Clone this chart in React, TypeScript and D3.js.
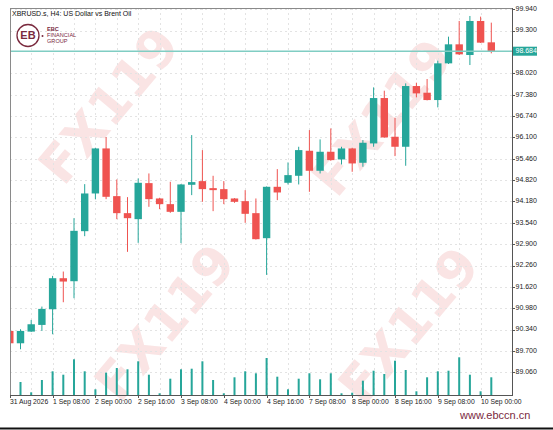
import React from "react";
import * as d3 from "d3";

const opens = [90.30, 89.93, 90.28, 90.48, 90.95, 91.88, 91.79, 93.29, 94.42, 95.77, 94.34, 93.83, 93.65, 94.73, 94.27, 94.10, 93.87, 94.68, 94.79, 94.58, 94.55, 94.27, 94.19, 93.83, 93.08, 94.62, 94.74, 94.95, 95.70, 95.10, 95.67, 95.44, 95.77, 95.34, 95.92, 97.28, 96.12, 95.82, 97.64, 97.44, 97.22, 98.32, 98.89, 98.57, 99.59, 98.95];
const highs = [90.33, 90.35, 90.63, 91.03, 91.95, 92.08, 93.68, 94.70, 95.79, 96.11, 94.84, 94.31, 94.87, 95.02, 94.29, 94.77, 94.70, 96.17, 95.72, 94.95, 94.79, 94.28, 94.52, 94.27, 94.63, 95.15, 95.35, 95.82, 96.32, 96.04, 96.37, 95.82, 95.79, 96.02, 97.60, 97.50, 96.69, 97.72, 97.74, 97.85, 98.40, 99.12, 99.59, 99.74, 99.72, 99.54];
const lows = [89.90, 89.75, 90.27, 90.30, 90.20, 91.16, 91.28, 93.14, 94.25, 94.25, 93.65, 92.67, 92.94, 94.02, 93.95, 93.84, 92.93, 94.37, 94.17, 93.89, 94.10, 94.14, 93.54, 93.04, 91.98, 94.22, 94.69, 94.69, 94.47, 95.02, 95.40, 95.29, 95.07, 95.22, 95.82, 96.09, 95.54, 95.25, 97.30, 97.21, 97.00, 98.30, 98.57, 98.27, 98.93, 98.62];
const closes = [89.93, 90.30, 90.50, 90.96, 91.88, 91.78, 93.30, 94.42, 95.77, 94.32, 93.83, 93.68, 94.74, 94.25, 94.10, 93.87, 94.69, 94.76, 94.55, 94.52, 94.25, 94.17, 93.81, 93.05, 94.62, 94.45, 94.97, 95.72, 95.10, 95.67, 95.42, 95.77, 95.32, 95.94, 97.28, 96.10, 95.82, 97.64, 97.42, 97.22, 98.32, 98.89, 98.59, 99.59, 98.94, 98.684];
const volumes = [1000, 1300, 270, 1500, 2370, 2030, 3570, 2370, 570, 2230, 2700, 2570, 3370, 2030, 170, 1630, 2570, 2630, 3370, 1500, 170, 1770, 2370, 2170, 3700, 1830, 570, 1630, 2170, 1570, 2170, 170, 230, 1430, 2430, 2100, 3430, 2500, 370, 1770, 2370, 2430, 3770, 2030, 370, 1770];

const priceTicks = [99.94, 99.3, 98.02, 97.38, 96.74, 96.1, 95.46, 94.82, 94.18, 93.54, 92.9, 92.26, 91.62, 90.98, 90.34, 89.7, 89.06];
const timeLabels = ["31 Aug 2026", "1 Sep 08:00", "2 Sep 00:00", "2 Sep 16:00", "3 Sep 08:00", "4 Sep 00:00", "4 Sep 16:00", "7 Sep 08:00", "8 Sep 00:00", "8 Sep 16:00", "9 Sep 08:00", "10 Sep 00:00"];
const timeLabelIndex = [0, 4, 8, 12, 16, 20, 24, 28, 32, 36, 40, 44];
const currentPrice = 98.684;
const title = "XBRUSD.s, H4:  US Dollar vs Brent Oil";
const watermarks = [
  [112, 108],
  [168, 325],
  [385, 120],
  [412, 328],
];

const UP = "#26a69a";
const DOWN = "#ef5350";
const MAROON = "#7a2a3e";

export default function App() {
  const left = 10, right = 512, top = 8, bottom = 395;
  const x = d3.scaleLinear().domain([0, 45]).range([9.8, 491.3]);
  const y = d3.scaleLinear().domain([89.06, 99.94]).range([372.3, 9.3]);
  const vy = d3.scaleLinear().domain([0, 4000]).range([bottom, bottom - 40]);
  const bodyW = 7.4;
  const gridXs = d3.range(2, 46, 2);
  const font = "'Liberation Sans', Arial, sans-serif";

  return (
    <svg width={553} height={430} style={{ position: "fixed", left: 0, top: 0, background: "#fff" }} fontFamily={font}>
      <defs>
        <clipPath id="plot">
          <rect x={left} y={top} width={right - left} height={bottom - top} />
        </clipPath>
      </defs>
      <rect x={0} y={0} width={553} height={430} fill="#fff" />
      {/* watermarks */}
      {watermarks.map(([cx, cy], i) => (
        <text key={i} x={cx} y={cy} transform={`rotate(-50 ${cx} ${cy})`} textAnchor="middle" dominantBaseline="middle"
          fontSize={52} fontWeight="bold" fill="#f9dede" opacity={0.8} fontFamily="'DejaVu Sans', sans-serif">FX119</text>
      ))}
      {/* grid */}
      <g stroke="#e3e3e3" strokeWidth={1} strokeDasharray="2,3">
        {priceTicks.map((t, i) => (
          <line key={"h" + i} x1={left} x2={right} y1={Math.round(y(t)) + 0.5} y2={Math.round(y(t)) + 0.5} />
        ))}
        {gridXs.map((g) => (
          <line key={"v" + g} x1={Math.round(x(g)) + 0.5} x2={Math.round(x(g)) + 0.5} y1={top} y2={bottom} />
        ))}
      </g>
      <g clipPath="url(#plot)">
        {/* volumes */}
        {volumes.map((v, i) => (
          <rect key={"vol" + i} x={x(i) - 1} width={2} y={vy(v)} height={bottom - vy(v)} fill={UP} />
        ))}
        {/* candles */}
        {opens.map((o, i) => {
          const c = closes[i];
          const col = c >= o ? UP : DOWN;
          const yt = y(Math.max(o, c));
          const yb = y(Math.min(o, c));
          return (
            <g key={"c" + i}>
              <line x1={x(i)} x2={x(i)} y1={y(highs[i])} y2={y(lows[i])} stroke={col} strokeWidth={1} />
              <rect x={x(i) - bodyW / 2} width={bodyW} y={yt} height={Math.max(1.5, yb - yt)} fill={col} />
            </g>
          );
        })}
        {/* current price line */}
        <line x1={left} x2={right} y1={y(currentPrice)} y2={y(currentPrice)} stroke="#80cdc3" strokeWidth={1.5} />
      </g>
      {/* frame */}
      <line x1={left} x2={right} y1={top + 0.5} y2={top + 0.5} stroke="#8a8a8a" />
      <line x1={left + 0.5} x2={left + 0.5} y1={top} y2={bottom} stroke="#8a8a8a" />
      <line x1={left} x2={right} y1={bottom + 0.5} y2={bottom + 0.5} stroke="#555" />
      <line x1={right + 0.5} x2={right + 0.5} y1={top} y2={bottom + 1} stroke="#555" />
      {/* y axis */}
      {priceTicks.map((t, i) => (
        <g key={"yt" + i}>
          <line x1={right} x2={right + 3} y1={Math.round(y(t)) + 0.5} y2={Math.round(y(t)) + 0.5} stroke="#555" />
          <text x={right + 3.5} y={y(t)} dominantBaseline="middle" fontSize={7} fill="#222">{t.toFixed(3)}</text>
        </g>
      ))}
      <rect x={right + 1} y={y(currentPrice) - 4.5} width={24} height={9} fill={UP} />
      <text x={right + 3.5} y={y(currentPrice) + 0.3} dominantBaseline="middle" fontSize={7} fill="#fff">{currentPrice.toFixed(3)}</text>
      {/* x axis */}
      {timeLabels.map((l, i) => {
        const xi = Math.max(left, Math.round(x(timeLabelIndex[i])));
        return (
          <g key={"xt" + i}>
            <line x1={xi + 0.5} x2={xi + 0.5} y1={bottom} y2={bottom + 3} stroke="#555" />
            <text x={xi} y={404} fontSize={6.8} fill="#222">{l}</text>
          </g>
        );
      })}
      {/* title */}
      <text x={12} y={16} fontSize={7} fill="#111">{title}</text>
      {/* logo */}
      <g>
        <circle cx={28} cy={35.5} r={11} fill="#fff" stroke={MAROON} strokeWidth={1.3} />
        <text x={28} y={36} textAnchor="middle" dominantBaseline="middle" fontSize={11} fontWeight="bold" fill={MAROON}>EB</text>
        <circle cx={42.5} cy={36} r={1} fill={MAROON} />
        <text x={47} y={31} fontSize={5.6} fontWeight="bold" fill={MAROON}>EBC</text>
        <text x={47} y={37} fontSize={5.6} fill={MAROON}>FINANCIAL</text>
        <text x={47} y={43} fontSize={5.6} fill={MAROON}>GROUP</text>
      </g>
      {/* website */}
      <text x={460} y={419} fontSize={11} fill={MAROON}>www.ebccn.cn</text>
      <line x1={0} x2={553} y1={428.5} y2={428.5} stroke="#111" strokeWidth={2} />
    </svg>
  );
}
